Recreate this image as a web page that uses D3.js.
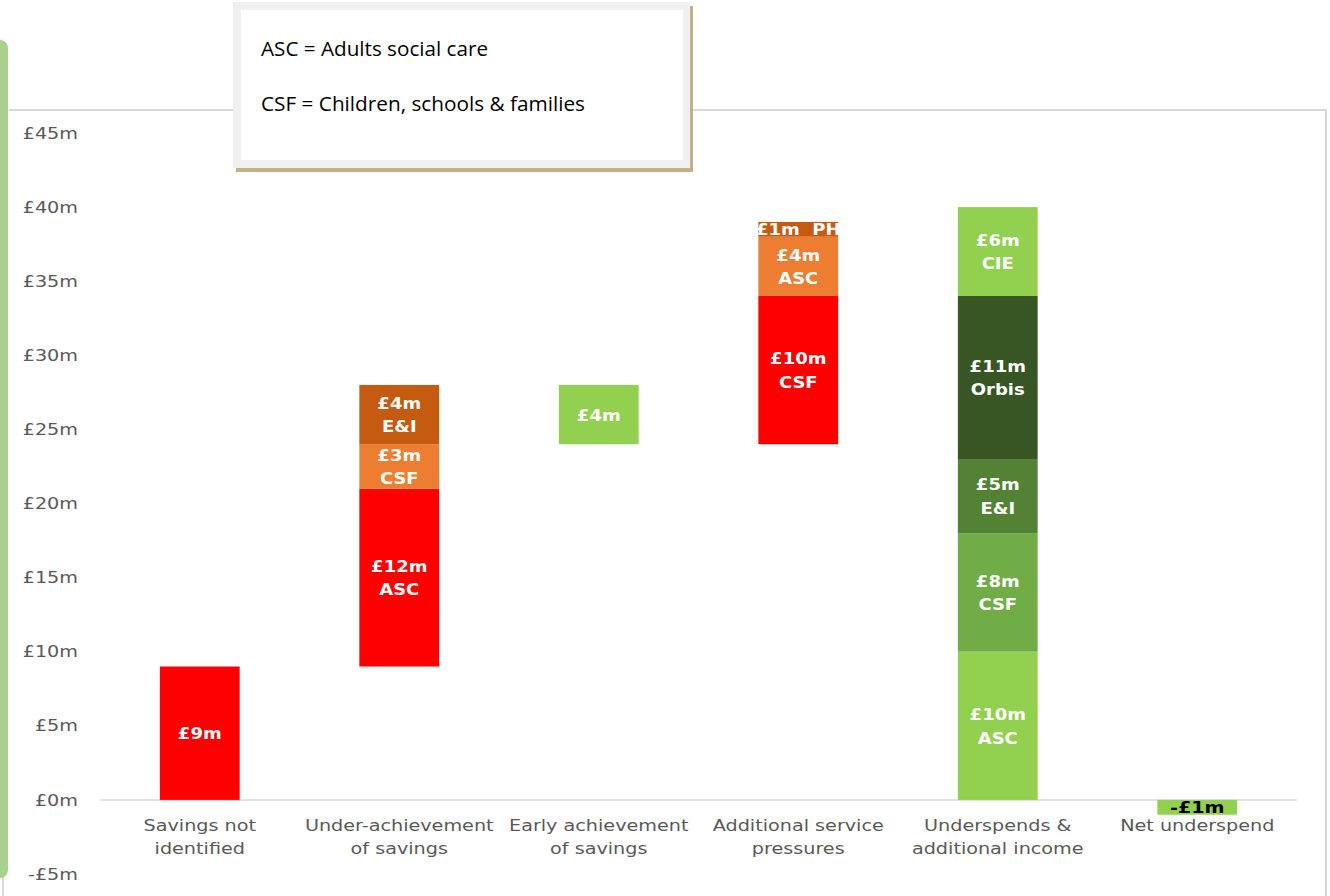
<!DOCTYPE html>
<html>
<head>
<meta charset="utf-8">
<script src="https://cdn.jsdelivr.net/npm/d3@7"></script>
<style>
  body { margin: 0; background: #fff; }
  svg { display: block; }
  .tick text { font-family: "DejaVu Sans", Verdana, sans-serif; font-size: 16px; fill: #595959; }
  .cat { font-family: "DejaVu Sans", Verdana, sans-serif; font-size: 16px; fill: #595959; }
  .lbl { font-family: "DejaVu Sans", Verdana, sans-serif; font-size: 15px; font-weight: bold; fill: #fff; white-space: pre; }
  .key { font-family: "Open Sans", sans-serif; font-size: 19.5px; fill: #000; }
</style>
</head>
<body>
<svg id="chart" width="1330" height="896"></svg>
<script>
// categories along the bottom
var categories = ["Savings not identified", "Under-achievement of savings", "Early achievement of savings",
                  "Additional service pressures", "Underspends & additional income", "Net underspend"];
var categoryLines = [["Savings not", "identified"], ["Under-achievement", "of savings"], ["Early achievement", "of savings"],
                     ["Additional service", "pressures"], ["Underspends &", "additional income"], ["Net underspend"]];

// floating segments (£m): which category, from, to
var segCategory = [0, 1, 1, 1, 2, 3, 3, 3, 4, 4, 4, 4, 4, 5];
var segFrom     = [0, 9, 21, 24, 24, 24, 34, 38, 0, 10, 18, 23, 34, -1];
var segTo       = [9, 21, 24, 28, 28, 34, 38, 39, 10, 18, 23, 34, 40, 0];
var segAmount   = ["£9m", "£12m", "£3m", "£4m", "£4m", "£10m", "£4m", "£1m", "£10m", "£8m", "£5m", "£11m", "£6m", "-£1m"];
var segDept     = ["", "ASC", "CSF", "E&I", "", "CSF", "ASC", "PH", "ASC", "CSF", "E&I", "Orbis", "CIE", ""];
var segShade    = [0, 0, 1, 2, 3, 0, 1, 2, 3, 4, 5, 6, 3, 3];

var yTicks = [-5, 0, 5, 10, 15, 20, 25, 30, 35, 40, 45];
var keyLines = ["ASC = Adults social care", "CSF = Children, schools & families"];

var palette = ["#ff0000", "#ed7d31", "#c55a11", "#92d050", "#70ad47", "#548235", "#375623"];
var stretch = 1.2; // reference text is drawn a little wide

var svg = d3.select("#chart");

var segs = segCategory.map(function(c, i) {
  return { cat: c, from: segFrom[i], to: segTo[i], amount: segAmount[i], dept: segDept[i], shade: segShade[i] };
});

var x = d3.scaleBand().domain(d3.range(categories.length)).range([100, 1297]).padding(0);
var y = d3.scaleLinear().domain([-5, 45]).range([874, 133]);
var barW = x.bandwidth() * 0.4;

// frame: green side strip, top and right rules
svg.append("line").attr("x1", 3).attr("x2", 3).attr("y1", 860).attr("y2", 896)
   .attr("stroke", "#d9d9d9").attr("stroke-width", 2);
svg.append("rect").attr("x", -12).attr("y", 40).attr("width", 20).attr("height", 838)
   .attr("rx", 8).attr("fill", "#a9d18e");
svg.append("line").attr("x1", 9).attr("x2", 1327).attr("y1", 110).attr("y2", 110)
   .attr("stroke", "#d9d9d9").attr("stroke-width", 2);
svg.append("line").attr("x1", 1326).attr("x2", 1326).attr("y1", 109).attr("y2", 896)
   .attr("stroke", "#d9d9d9").attr("stroke-width", 2);

// y axis labels
var yAxis = svg.append("g").attr("transform", "translate(100,0)")
  .call(d3.axisLeft(y).tickValues(yTicks).tickSize(0).tickPadding(22 / stretch)
    .tickFormat(function(d) { return (d < 0 ? "-" : "") + "£" + Math.abs(d) + "m"; }));
yAxis.select(".domain").remove();
yAxis.selectAll("text").attr("transform", "scale(" + stretch + ",1)");

// zero line
svg.append("line").attr("x1", 100).attr("x2", 1297).attr("y1", y(0)).attr("y2", y(0))
   .attr("stroke", "#d9d9d9").attr("stroke-width", 1.5);

// bars
svg.selectAll(".seg").data(segs).enter().append("rect")
  .attr("class", "seg")
  .attr("x", function(d) { return x(d.cat) + (x.bandwidth() - barW) / 2; })
  .attr("y", function(d) { return y(d.to); })
  .attr("width", barW)
  .attr("height", function(d) { return y(d.from) - y(d.to); })
  .attr("fill", function(d) { return palette[d.shade]; });

// bar labels
segs.forEach(function(d) {
  var cx = x(d.cat) + x.bandwidth() / 2;
  var cy = (y(d.from) + y(d.to)) / 2;
  var thin = (d.to - d.from) < 2;
  var t = svg.append("text").attr("class", "lbl").attr("text-anchor", "middle");
  if (d.from < 0) {
    t.style("fill", "#000").style("font-size", "16px");
  }
  if (d.dept === "" || thin) {
    var s = d.dept === "" ? d.amount : d.amount + "  " + d.dept;
    t.attr("transform", "translate(" + cx + "," + (cy + 6) + ") scale(" + stretch + ",1)").text(s);
  } else {
    t.attr("transform", "translate(" + cx + "," + (cy - 5.75) + ") scale(" + stretch + ",1)");
    t.append("tspan").attr("x", 0).attr("y", 0).text(d.amount);
    t.append("tspan").attr("x", 0).attr("y", 23.5).text(d.dept);
  }
});

// category labels
categoryLines.forEach(function(lines, i) {
  var cx = x(i) + x.bandwidth() / 2;
  var t = svg.append("text").attr("class", "cat").attr("text-anchor", "middle")
    .attr("transform", "translate(" + cx + ",831) scale(" + stretch + ",1)");
  lines.forEach(function(l, j) {
    t.append("tspan").attr("x", 0).attr("y", j * 23).text(l);
  });
});

// abbreviations key box
var key = svg.append("g");
key.append("rect").attr("x", 236).attr("y", 6).attr("width", 457).attr("height", 166).attr("fill", "#c4b183");
key.append("rect").attr("x", 233).attr("y", 2).attr("width", 457).attr("height", 166).attr("fill", "#f0f0f0");
key.append("rect").attr("x", 241).attr("y", 10).attr("width", 442).attr("height", 150).attr("fill", "#fff");
var keyWidths = [227, 324];
keyLines.forEach(function(l, i) {
  key.append("text").attr("class", "key").attr("x", 261).attr("y", 56 + i * 55)
    .attr("textLength", keyWidths[i]).attr("lengthAdjust", "spacingAndGlyphs").text(l);
});
</script>
</body>
</html>
